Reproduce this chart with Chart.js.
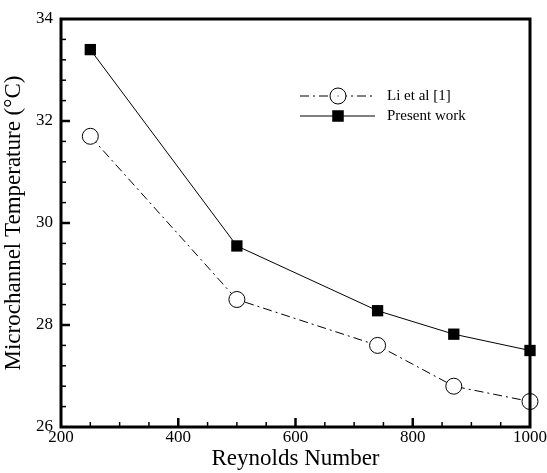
<!DOCTYPE html>
<html>
<head>
<meta charset="utf-8">
<script src="https://cdn.jsdelivr.net/npm/chart.js@4"></script>
<style>
  html, body { margin: 0; padding: 0; background: #fff; }
  #wrap { width: 547px; height: 473px; }
</style>
</head>
<body>
<div id="wrap"><canvas id="tempChart" width="547" height="473"></canvas></div>
<script>
// values
const reynolds = [250, 500, 740, 870, 1000];
const liTemps = [31.7, 28.5, 27.6, 26.8, 26.5];
const presentTemps = [33.4, 29.55, 28.28, 27.82, 27.5];
const seriesNames = ['Li et al [1]', 'Present work'];

const serif = "'Liberation Serif', 'Times New Roman', serif";

function toPoints(xs, ys) {
    return xs.map((x, i) => ({x: x, y: ys[i]}));
}

// box round the plot and inward ticks (major + minor)
const framePlugin = {
    id: 'frame',
    afterDraw(chart) {
        const ctx = chart.ctx;
        const a = chart.chartArea;
        const xs = chart.scales.x, ys = chart.scales.y;
        ctx.save();
        ctx.strokeStyle = '#000';
        for (let v = 250; v < 1000; v += 50) {
            const px = xs.getPixelForValue(v);
            const major = v % 200 === 0;
            ctx.lineWidth = major ? 2.5 : 1.5;
            ctx.beginPath();
            ctx.moveTo(px, a.bottom);
            ctx.lineTo(px, a.bottom - (major ? 9 : 5));
            ctx.stroke();
        }
        for (let i = 1; i < 20; i++) {
            const py = ys.getPixelForValue(26 + i * 0.4);
            const major = i % 5 === 0;
            ctx.lineWidth = major ? 2.5 : 1.5;
            ctx.beginPath();
            ctx.moveTo(a.left, py);
            ctx.lineTo(a.left + (major ? 9 : 5), py);
            ctx.stroke();
        }
        ctx.lineWidth = 3;
        ctx.strokeRect(a.left, a.top, a.right - a.left, a.bottom - a.top);
        ctx.restore();
    }
};

// legend with line sample and marker, like the original
const legendPlugin = {
    id: 'lineLegend',
    afterDraw(chart) {
        const ctx = chart.ctx;
        ctx.save();
        chart.data.datasets.forEach((ds, i) => {
            const y = 96 + i * 20;
            const r = ds.pointRadius;
            ctx.strokeStyle = ds.borderColor;
            ctx.lineWidth = ds.borderWidth;
            ctx.setLineDash(ds.borderDash || []);
            ctx.beginPath();
            ctx.moveTo(300, y);
            ctx.lineTo(375, y);
            ctx.stroke();
            ctx.setLineDash([]);
            ctx.fillStyle = ds.pointBackgroundColor;
            ctx.strokeStyle = '#000';
            ctx.beginPath();
            if (ds.pointStyle === 'circle') {
                ctx.arc(338, y, r, 0, Math.PI * 2);
                ctx.fill();
                ctx.stroke();
                ctx.fillStyle = '#000';
                ctx.fillRect(337.5, y - 0.5, 1, 1);
            } else {
                ctx.fillRect(338 - r * 0.72, y - r * 0.72, r * 1.44, r * 1.44);
            }
            ctx.fillStyle = '#000';
            ctx.font = '15px ' + serif;
            ctx.textBaseline = 'middle';
            ctx.fillText(ds.label, 387, y);
        });
        ctx.restore();
    }
};

const data = {
    datasets: [{
        label: seriesNames[0],
        data: toPoints(reynolds, liTemps),
        showLine: true,
        clip: false,
        borderColor: '#000',
        borderWidth: 1,
        borderDash: [9, 4, 2, 4],
        pointStyle: 'circle',
        pointRadius: 8,
        pointBorderWidth: 1,
        pointBackgroundColor: '#fff',
        pointBorderColor: '#000'
    }, {
        label: seriesNames[1],
        data: toPoints(reynolds, presentTemps),
        showLine: true,
        clip: false,
        borderColor: '#000',
        borderWidth: 1,
        pointStyle: 'rect',
        pointRadius: 8,
        pointBorderWidth: 0,
        pointBackgroundColor: '#000',
        pointBorderColor: '#000'
    }]
};

const chart = new Chart(document.getElementById('tempChart'), {
    type: 'scatter',
    data: data,
    plugins: [framePlugin, legendPlugin],
    options: {
        responsive: false,
        animation: false,
        layout: { padding: { left: 0, right: 17, top: 19, bottom: 0 } },
        plugins: {
            legend: { display: false },
            tooltip: { enabled: false }
        },
        scales: {
            x: {
                type: 'linear',
                min: 200,
                max: 1000,
                ticks: {
                    stepSize: 200,
                    color: '#000',
                    font: { family: serif, size: 17 },
                    padding: 0,
                    maxRotation: 0,
                    callback: v => String(v)
                },
                grid: { drawOnChartArea: false, drawTicks: false },
                border: { display: false },
                title: {
                    display: true,
                    text: 'Reynolds Number',
                    color: '#000',
                    font: { family: serif, size: 23 },
                    padding: { top: 2, bottom: 0 }
                },
                afterFit(scale) { scale.height = 46; }
            },
            y: {
                min: 26,
                max: 34,
                ticks: {
                    stepSize: 2,
                    color: '#000',
                    font: { family: serif, size: 17 },
                    padding: 8
                },
                grid: { drawOnChartArea: false, drawTicks: false },
                border: { display: false },
                title: {
                    display: true,
                    text: 'Microchannel Temperature (°C)',
                    color: '#000',
                    font: { family: serif, size: 23 },
                    padding: { top: 0, bottom: 4 }
                },
                afterFit(scale) { scale.width = 61; }
            }
        }
    }
});
</script>
</body>
</html>
